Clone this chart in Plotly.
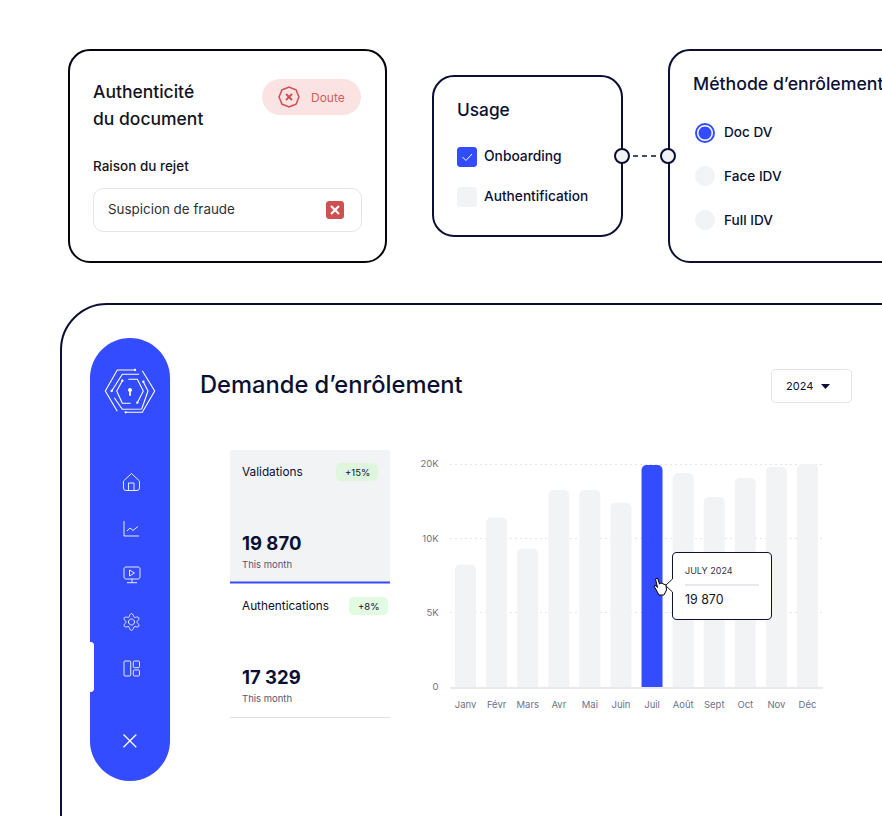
import numpy as np
import plotly.graph_objects as go

W, H = 882, 816
NAVY = "#0b1033"
BLUE = "#344cff"
GREY = "#f2f3f5"
LINE = "#e3e4e8"
RED = "#cf5050"
FONT = "Inter"

# chart data
months = ["Janv", "Févr", "Mars", "Avr", "Mai", "Juin", "Juil", "Août", "Sept", "Oct", "Nov", "Déc"]
demand = [8230, 12790, 9300, 16500, 16500, 14800, 19870, 18780, 15560, 18110, 19580, 20000]
tick_values = [0, 5000, 10000, 20000]
tick_labels = ["0", "5K", "10K", "20K"]
highlight = "Juil"

# stat cards
stat_names = ["Validations", "Authentications"]
stat_values = ["19 870", "17 329"]
stat_deltas = ["+15%", "+8%"]
stat_period = "This month"

usage_options = ["Onboarding", "Authentification"]
method_options = ["Doc DV", "Face IDV", "Full IDV"]


def axis_pos(v):
    # the reference axis spaces its ticks evenly even though 10K -> 20K is a wider step
    return np.interp(v, tick_values, range(len(tick_values)))


def P(d):
    # pixel path string -> paper coordinates
    out = []
    i = 0
    for tok in d.split():
        if tok.isalpha():
            out.append(tok)
        else:
            v = float(tok)
            out.append(f"{(v / W if i % 2 == 0 else 1 - v / H):.5f}")
            i += 1
    return " ".join(out)


def rr(x0, y0, x1, y1, r):
    k = r * 0.45
    return (f"M {x0+r} {y0} L {x1-r} {y0} C {x1-k} {y0} {x1} {y0+k} {x1} {y0+r} "
            f"L {x1} {y1-r} C {x1} {y1-k} {x1-k} {y1} {x1-r} {y1} "
            f"L {x0+r} {y1} C {x0+k} {y1} {x0} {y1-k} {x0} {y1-r} "
            f"L {x0} {y0+r} C {x0} {y0+k} {x0+k} {y0} {x0+r} {y0} Z")


def circ(cx, cy, r):
    return rr(cx - r, cy - r, cx + r, cy + r, r)


shapes = []
notes = []


def shape(d, fill=None, line=None, lw=1, layer="below", dash=None):
    ln = dict(width=lw if line else 0, color=line or "rgba(0,0,0,0)")
    if dash:
        ln["dash"] = dash
    shapes.append(dict(type="path", path=P(d), xref="paper", yref="paper", layer=layer,
                       fillcolor=fill or "rgba(0,0,0,0)", line=ln))


def text(s, x, y, size, color=NAVY, weight=400, anchor="left"):
    notes.append(dict(text=s, x=x / W, y=1 - y / H, xref="paper", yref="paper", showarrow=False,
                      xanchor=anchor, yanchor="middle", align=anchor, borderpad=0, borderwidth=0,
                      font=dict(family=FONT, size=size, color=color, weight=weight)))


# top left card
shape(rr(69, 50, 386, 262, 21), "white", "#05050f", 2)
text("Authenticité", 93, 91, 17.5, "#14141f", 500)
text("du document", 93, 118, 17.5, "#14141f", 500)
shape(rr(262, 79, 361, 115, 18), "#fbe3e3")
pts = [(289 + (10 if i % 2 == 0 else 9.2) * np.cos(i * np.pi / 8), 97 + (10 if i % 2 == 0 else 9.2) * np.sin(i * np.pi / 8)) for i in range(16)]
shape("M " + " L ".join(f"{a:.1f} {b:.1f}" for a, b in pts) + " Z", None, RED, 1.5)
shape("M 286 94 L 292 100 M 292 94 L 286 100", None, RED, 1.8)
text("Doute", 311, 97.5, 12, "#d65b5b")
text("Raison du rejet", 93, 166, 13.5, "#14141f", 500)
shape(rr(93.5, 188.5, 361.5, 231.5, 10), "white", LINE, 1)
text("Suspicion de fraude", 108, 209.5, 13.4, "#2f3037")
shape(rr(326, 201, 344, 219, 3), RED)
shape("M 331 206 L 339 214 M 339 206 L 331 214", None, "white", 2.2)

# usage card
shape(rr(433, 76, 622, 236, 21), "white", NAVY, 2)
text("Usage", 457, 110, 17.3, NAVY, 500)
shape(rr(457, 147, 477, 167, 3), BLUE)
shape("M 462.5 157 L 466 160.5 L 472 154", None, "white", 1)
shape(rr(457, 187, 477, 207, 3), GREY)
text(usage_options[0], 484, 156, 13.8, NAVY, 500)
text(usage_options[1], 484, 196, 13.7, NAVY, 500)

# method card
shape(rr(669, 50, 920, 262, 21), "white", NAVY, 2)
text("Méthode d’enrôlement", 693, 84, 17.7, NAVY, 500)
shape(circ(705, 133, 9), "white", BLUE, 2)
shape(circ(705, 133, 6.5), BLUE)
shape(circ(705, 176, 10), GREY)
shape(circ(705, 220, 10), GREY)
for name, y in zip(method_options, [132, 176, 220]):
    text(name, 724, y, 13.6, NAVY, 500)

# connector between the cards
shape("M 633 156 L 657 156", None, NAVY, 1.5, dash="5px,4px")
shape(circ(622, 156, 7), GREY, NAVY, 2)
shape(circ(668, 156, 7), GREY, NAVY, 2)

# main panel, runs off the page
shape(rr(61, 304, 960, 900, 46), "white", NAVY, 2)

# sidebar
shape(rr(90, 338, 170, 781, 40), BLUE)
shape(rr(86, 642, 94, 692, 3), "white")


def sx(X):
    return 60 + X / 3


def sy(Y):
    return 330 + Y / 3


def logo_line(coords, lw=1.1):
    d = "M " + " L ".join(f"{sx(a):.1f} {sy(b):.1f}" for a, b in coords)
    shape(d, None, "white", lw)


logo_line([(225, 120), (172, 120), (136, 183), (172, 244)])
logo_line([(247, 122), (284, 183), (247, 247), (197, 247)])
logo_line([(155, 183), (187, 133), (237, 133)])
logo_line([(250, 155), (264, 183), (245, 237), (187, 238), (163, 203)])
logo_line([(187, 152), (170, 183), (187, 220), (212, 220)])
logo_line([(205, 148), (232, 148), (250, 183), (232, 218)])
for a, b in [(225, 120), (197, 247), (155, 183), (250, 155), (187, 152), (232, 218)]:
    shape(circ(sx(a), sy(b), 1.2), "white")
shape(circ(sx(210), sy(180), 2), "white")
shape(f"M {sx(210)} {sy(180)} L {sx(210)} {sy(197)}", None, "white", 1.8)

ICON = "rgba(255,255,255,0.88)"
# home
shape("M 123.5 481 L 131.5 473.5 L 139.5 481 L 139.5 488 Q 139.5 490.5 137 490.5 L 126 490.5 Q 123.5 490.5 123.5 488 Z", None, ICON, 1)
shape("M 128.5 490.5 L 128.5 483 L 134 483 L 134 490.5", None, ICON, 1)
# chart
shape("M 124 521 L 124 536 L 139 536", None, ICON, 1)
shape("M 127 531 L 130 528 L 133 530.5 L 138 526.5", None, ICON, 1)
# monitor
shape(rr(124, 567, 140, 579, 2), None, ICON, 1)
shape("M 132 579 L 132 582.7 M 127 582.7 L 137 582.7", None, ICON, 1)
shape("M 129.5 570 L 134.5 573 L 129.5 576 Z", None, ICON, 1)
# gear
ang = np.linspace(0, 2 * np.pi, 73)
rad = 6.9 + 1.5 * np.cos(6 * ang + np.pi / 2 * 2 + np.pi)
shape("M " + " L ".join(f"{131.5 + r * np.cos(a):.1f} {622 + r * np.sin(a):.1f}" for a, r in zip(ang + np.pi / 2, rad)) + " Z", None, ICON, 1)
shape(circ(131.5, 622, 3), None, ICON, 1)
# layout
shape(rr(124, 661, 130.7, 676, 1), None, ICON, 1)
shape(rr(133.3, 661, 139.5, 667.7, 1), None, ICON, 1)
shape(rr(133.3, 670, 139.5, 676, 1), None, ICON, 1)
# close
shape("M 123.5 734.5 L 136.3 747.2 M 136.3 734.5 L 123.5 747.2", None, "white", 1.3)

# header
text("Demande d’enrôlement", 200, 384, 23.7, NAVY, 500)
shape(rr(771.5, 369.5, 851.5, 402.5, 4), "white", LINE, 1)
text("2024", 786, 386, 11, NAVY)
shape("M 821 384 L 830 384 L 825.5 389 Z", NAVY)

# stat cards
shape(rr(230, 450, 390, 583, 2), GREY)
shape("M 230 582.5 L 390 582.5", None, BLUE, 2)
shape("M 230 717.5 L 390 717.5", None, "#dfe0e4", 1)
shape(rr(336, 463, 378, 481, 5), "#dff5de")
shape(rr(349, 597, 388, 615, 5), "#e3fbe0")
text(stat_names[0], 242, 472, 11.8, NAVY)
text(stat_names[1], 242, 606, 11.8, NAVY)
text(stat_deltas[0], 357, 472, 9.5, NAVY, anchor="center")
text(stat_deltas[1], 368.5, 606, 9.5, NAVY, anchor="center")
text(stat_values[0], 242, 543, 18.5, NAVY, 700)
text(stat_values[1], 242, 677, 18.5, NAVY, 700)
text(stat_period, 242, 564, 9.5, "#555870")
text(stat_period, 242, 698, 9.5, "#555870")

# tooltip and cursor sit above the bars
shape("M 677 552.5 L 767 552.5 Q 771.5 552.5 771.5 557 L 771.5 615 Q 771.5 619.5 767 619.5 L 677 619.5 "
      "Q 672.5 619.5 672.5 615 L 672.5 592 L 665.5 585.5 L 672.5 579 L 672.5 557 Q 672.5 552.5 677 552.5 Z",
      "white", NAVY, 1, layer="above")
shape("M 685 585 L 759 585", None, "#e8e9ed", 2, layer="above")
text("JULY 2024", 685, 570, 9, "#33343f")
text(stat_values[0], 685, 599.5, 12.4, "#14141f")
shape("M 655.5 579 L 657.5 578 L 659.5 584 L 661 583 L 666 585 L 666.5 590 L 664 595 L 659 595 L 654 586 L 656 585.5 L 657.5 587.5 Z",
      "white", "black", 1, layer="above")

ypos = axis_pos(demand)
colors = [BLUE if m == highlight else GREY for m in months]

fig = go.Figure(go.Bar(x=months, y=ypos, marker=dict(color=colors, line=dict(width=0)), hoverinfo="skip"))

# range goes a hair past 3 so the top gridline is still drawn
top_pad = 0.02
base_px = 687
unit_px = (base_px - 464) / 3

fig.update_layout(
    width=W, height=H, margin=dict(l=0, r=0, t=0, b=0),
    paper_bgcolor="white", plot_bgcolor="rgba(0,0,0,0)",
    showlegend=False, bargap=0.325, barcornerradius=5,
    shapes=shapes, annotations=notes,
    xaxis=dict(domain=[450 / W, 823 / W], type="category", showgrid=False, zeroline=False, automargin=False,
               showline=True, linecolor="#e8e9ed", linewidth=2, ticks="outside", ticklen=8,
               tickcolor="rgba(0,0,0,0)", tickfont=dict(family=FONT, size=9.5, color="#6f7188"),
               fixedrange=True),
    yaxis=dict(domain=[1 - base_px / H, 1 - (464 - top_pad * unit_px) / H], range=[0, 3 + top_pad],
               showline=False, zeroline=False, automargin=False,
               tickvals=axis_pos(tick_values), ticktext=tick_labels, showgrid=True,
               gridcolor="#e4e5ea", griddash="2px,3px", gridwidth=1, ticks="outside", ticklen=8.5,
               tickcolor="rgba(0,0,0,0)", tickfont=dict(family=FONT, size=9.5, color="#6f7188"),
               fixedrange=True),
)

fig.write_html("out.html", config=dict(displayModeBar=False),
               post_script="document.body.style.margin='0';")
